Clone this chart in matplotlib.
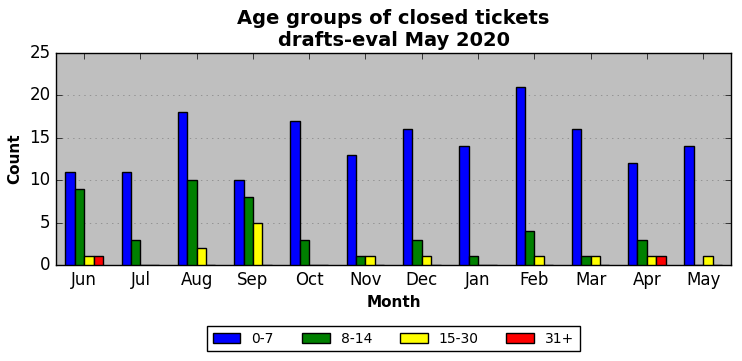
import matplotlib
matplotlib.use('Agg')
import matplotlib.pyplot as plt
import numpy as np

# Data
months = ['Jun', 'Jul', 'Aug', 'Sep', 'Oct', 'Nov', 'Dec', 'Jan', 'Feb', 'Mar', 'Apr', 'May']
age_0_7 = [11, 11, 18, 10, 17, 13, 16, 14, 21, 16, 12, 14]
age_8_14 = [9, 3, 10, 8, 3, 1, 3, 1, 4, 1, 3, 0]
age_15_30 = [1, 0, 2, 5, 0, 1, 1, 0, 1, 1, 1, 1]
age_31 = [1, 0, 0, 0, 0, 0, 0, 0, 0, 0, 1, 0]
labels = ['0-7', '8-14', '15-30', '31+']

plt.style.use('classic')
fig = plt.figure(figsize=(7.42, 3.61), dpi=100, facecolor='white')
ax = fig.add_axes([0.0755, 0.266, 0.91, 0.587])
ax.set_facecolor('#bfbfbf')

x = np.arange(len(months))
series = [age_0_7, age_8_14, age_15_30, age_31]
colors = ['blue', 'green', 'yellow', 'red']
w = 0.167
for i, (vals, c, lab) in enumerate(zip(series, colors, labels)):
    offset = (i - 1.5) * w
    ax.bar(x + offset, vals, w, color=c, edgecolor='black', linewidth=1, label=lab,
           align='center', zorder=3)

ax.set_xlim(-0.5, len(months) - 0.5)
ax.set_ylim(0, 25)
ax.set_xticks(x)
ax.set_xticklabels(months)
ax.set_yticks(range(0, 26, 5))
ax.yaxis.grid(True, linestyle=':', color='gray', zorder=0)
ax.xaxis.grid(False)
ax.set_axisbelow(True)

ax.set_title('Age groups of closed tickets\ndrafts-eval May 2020', fontsize=14, fontweight='bold')
ax.set_xlabel('Month', fontsize=11, fontweight='bold')
ax.set_ylabel('Count', fontsize=11, fontweight='bold')

ax.legend(loc='upper center', bbox_to_anchor=(0.5, -0.255), ncol=4, fontsize=10,
          frameon=True, fancybox=False, shadow=False, handlelength=2.0, columnspacing=2.0)

fig.savefig('out.png', dpi=100, facecolor='white')
